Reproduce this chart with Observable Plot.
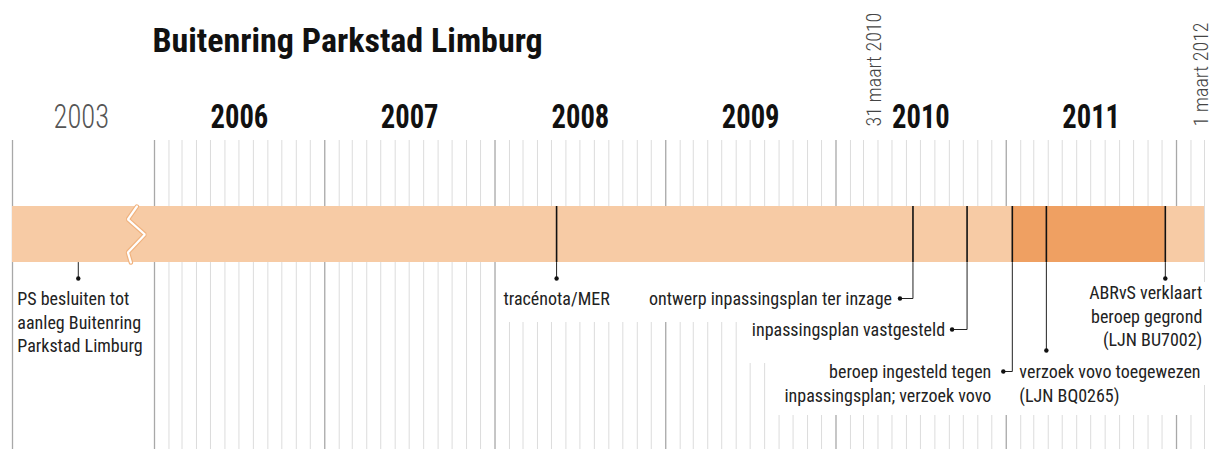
<!DOCTYPE html>
<html><head><meta charset="utf-8">
<script src="https://cdn.jsdelivr.net/npm/d3@7"></script>
<script src="https://cdn.jsdelivr.net/npm/@observablehq/plot@0.6"></script>
<style>
html,body{margin:0;padding:0;background:#fff;}
#chart svg{display:block;}
</style></head><body>
<div id="chart"></div>
<script>
// ---------- data ----------
const title = "Buitenring Parkstad Limburg";
const years = [2003, 2006, 2007, 2008, 2009, 2010, 2011];
const eventDates = ["2003-06-24", "2008-05-12", "2010-06-15", "2010-10-09", "2011-01-14", "2011-03-28", "2011-12-08"];
const eventLabels = [
  "PS besluiten tot\naanleg Buitenring\nParkstad Limburg",
  "tracénota/MER",
  "ontwerp inpassingsplan ter inzage",
  "inpassingsplan vastgesteld",
  "beroep ingesteld tegen\ninpassingsplan; verzoek vovo",
  "verzoek vovo toegewezen\n(LJN BQ0265)",
  "ABRvS verklaart\nberoep gegrond\n(LJN BU7002)"
];
const periodStarts = ["2003-01-01", "2011-01-14"];
const periodEnds = ["2012-03-01", "2011-12-08"];
const periodPhases = ["procedure", "beroep"];
const markedDates = ["2010-03-31", "2012-03-01"];
const markedLabels = ["31 maart 2010", "1 maart 2012"];

// ---------- layout ----------
const W = 1213, H = 449;
const gridTop = 140, bandTop = 206, bandBottom = 262;
const D = s => new Date(s);
const xOpts = {type: "utc", domain: [D("2003-01-01"), D("2004-01-01"), D("2006-01-01"), D("2012-03-01")], range: [12, 150, 154, 1204]};
const xs = Plot.scale({x: xOpts});
const shift = (d, px) => xs.invert(xs.apply(d) + px);

const events = eventDates.map((d, i) => ({date: D(d), label: eventLabels[i]}));
const periods = periodStarts.map((s, i) => ({start: D(s), end: D(periodEnds[i]), phase: periodPhases[i]}));
const marked = markedDates.map((d, i) => ({date: D(d), label: markedLabels[i]}));

// annotation layout per event: leader end row, dot offset, text placement
const ann = [
  {dotY: 278, dotDx: 0, tx: -61, ty: 288, anchor: "start"},
  {dotY: 278, dotDx: 0, tx: 0, ty: 288, anchor: "middle"},
  {dotY: 298, dotDx: -13, tx: -21, ty: 288, anchor: "end"},
  {dotY: 329, dotDx: -15, tx: -22, ty: 319, anchor: "end"},
  {dotY: 371, dotDx: -9, tx: -21, ty: 361, anchor: "end"},
  {dotY: 350, dotDx: 0, tx: -27, ty: 361, anchor: "start"},
  {dotY: 278, dotDx: 0, tx: 37, ty: 282, anchor: "end"}
];
events.forEach((e, i) => Object.assign(e, ann[i], {dot: shift(e.date, ann[i].dotDx)}));

const months = d3.utcMonth.range(D("2006-01-01"), D("2012-03-02"));
const yearLines = [D("2003-01-01"), ...months.filter(m => m.getUTCMonth() === 0)];
const monthLines = months.filter(m => m.getUTCMonth() !== 0);

// white backdrops that hide the grid behind the label blocks
const masks = [
  {x1: shift(D("2008-01-01"), 2), x2: D("2011-01-01"), y1: bandBottom, y2: 322},
  {x1: D("2009-06-20"), x2: D("2011-01-01"), y1: bandBottom, y2: 363},
  {x1: D("2009-08-20"), x2: D("2012-02-22"), y1: bandBottom, y2: 415},
  {x1: D("2011-06-01"), x2: shift(D("2012-03-01"), 9), y1: 282, y2: 385}
];

// zigzag break in the compressed 2003 segment
const breakDate = D("2003-11-26");
const zig = [[0, 0], [-9, 0.23], [8, 0.5], [-9, 0.82], [-6, 1]].map(([px, f]) => ({x: shift(breakDate, px), y: bandTop + f * (bandBottom - bandTop)}));

const leaders = events.flatMap((e, i) => {
  const pts = [{x: e.date, y: bandBottom, i}, {x: e.date, y: e.dotY, i}];
  if (e.dotDx) pts.push({x: e.dot, y: e.dotY, i});
  return pts;
});

const font = "'Roboto Condensed', sans-serif";

const chart = Plot.plot({
  width: W, height: H, margin: 0,
  style: {background: "#fff", fontFamily: font},
  x: {...xOpts, axis: null},
  y: {domain: [0, H], range: [0, H], axis: null},
  marks: [
    Plot.ruleX(monthLines, {x: d => d, y1: gridTop, y2: H, stroke: "#dcdcdc", strokeWidth: 1}),
    Plot.ruleX(yearLines, {x: d => d, y1: gridTop, y2: H, stroke: "#a8a8a8", strokeWidth: 1.3}),
    Plot.rect(masks, {x1: "x1", x2: "x2", y1: "y1", y2: "y2", fill: "#fff"}),
    Plot.rect(periods.filter(p => p.phase === "procedure"), {x1: "start", x2: "end", y1: bandTop, y2: bandBottom, fill: "#f7cba5"}),
    Plot.rect(periods.filter(p => p.phase === "beroep"), {x1: "start", x2: "end", y1: bandTop, y2: bandBottom, fill: "#efa062"}),
    Plot.line(zig, {x: "x", y: "y", stroke: "#f0b27e", strokeWidth: 4.5, strokeLinejoin: "miter"}),
    Plot.line(zig, {x: "x", y: "y", stroke: "#fff", strokeWidth: 2.2, strokeLinejoin: "miter"}),
    Plot.ruleX(events.slice(1), {x: "date", y1: bandTop, y2: bandBottom, stroke: "#111", strokeWidth: 1.6}),
    Plot.line(leaders, {x: "x", y: "y", z: "i", stroke: "#222", strokeWidth: 1}),
    Plot.dot(events, {x: "dot", y: "dotY", r: 2.2, fill: "#111", stroke: null}),
    ...["start", "middle", "end"].map(a => Plot.text(events.filter(e => e.anchor === a), {x: e => shift(e.date, e.tx), y: "ty", text: "label", textAnchor: a, lineAnchor: "top", fontSize: 18, lineHeight: 1.3, fill: "#222"})),
    Plot.text(years.filter(y => y !== 2003), {x: y => D(`${y}-07-02`), y: 127, text: y => String(y), lineAnchor: "bottom", fontSize: 34, fontWeight: "bold", fill: "#111", className: "yr"}),
    Plot.text(years.filter(y => y === 2003), {x: y => D(`${y}-07-02`), y: 127, text: y => String(y), lineAnchor: "bottom", fontSize: 34, fontWeight: 300, fill: "#555", className: "yr"}),
    Plot.text(marked, {x: "date", y: 126, text: "label", rotate: -90, textAnchor: "start", lineAnchor: "bottom", dx: 3, fontSize: 20, fontWeight: 300, fill: "#444"}),
    Plot.text([title], {x: D("2006-01-01"), y: 27, dx: -2, text: d => d, textAnchor: "start", lineAnchor: "top", fontSize: 34, fontWeight: "bold", fill: "#111"})
  ]
});
document.getElementById("chart").append(chart);
// the year numerals are set in a tighter condensed cut in the original
chart.querySelectorAll(".yr text").forEach(t => {
  t.setAttribute("textLength", (t.getComputedTextLength() * 0.84).toFixed(1));
  t.setAttribute("lengthAdjust", "spacingAndGlyphs");
});
</script>
</body></html>
